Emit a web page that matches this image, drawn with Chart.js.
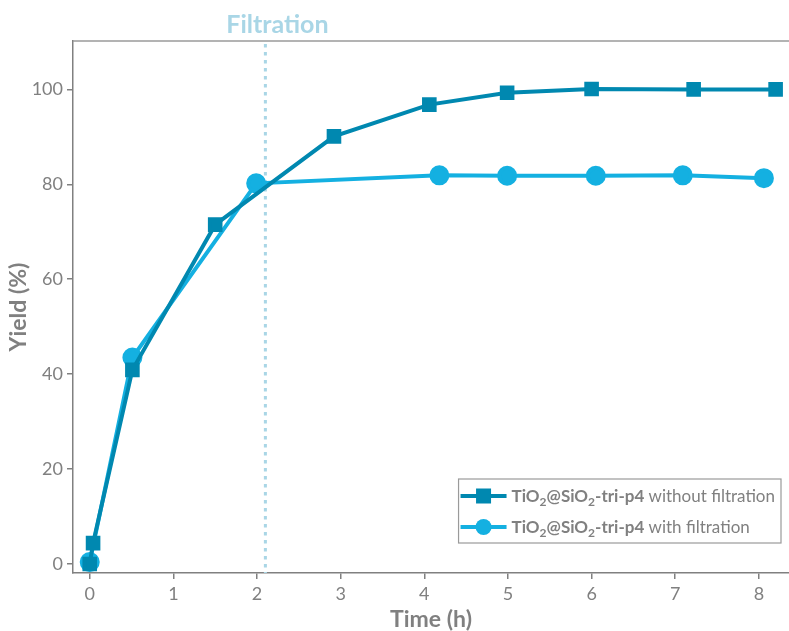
<!DOCTYPE html>
<html>
<head>
<meta charset="utf-8">
<script src="https://cdn.jsdelivr.net/npm/chart.js@4/dist/chart.umd.min.js"></script>
<style>
  html, body { margin: 0; padding: 0; background: #fff; }
  #wrap { width: 789px; height: 631px; }
</style>
</head>
<body>
<div id="wrap"><canvas id="chart" width="789" height="631"></canvas></div>
<script>
// --- data
var timeNoFilt = [0, 0.04, 0.51, 1.5, 2.92, 4.06, 4.99, 6.0, 7.22, 8.2];
var yieldNoFilt = [0, 4.4, 40.9, 71.5, 90.1, 96.8, 99.3, 100.1, 100, 100];
var timeFilt = [0, 0.51, 1.99, 4.18, 4.99, 6.05, 7.09, 8.06];
var yieldFilt = [0.4, 43.5, 80.2, 81.9, 81.8, 81.8, 81.9, 81.3];
var xTicks = [0, 1, 2, 3, 4, 5, 6, 7, 8];
var yTicks = [0, 20, 40, 60, 80, 100];
var filtrationTime = 2.1;
var seriesNames = ['without filtration', 'with filtration'];
var sampleName = ['TiO', '2', '@SiO', '2', '-tri-p4'];

var GREY = '#808080';
var DARK = '#0088b0';
var LIGHT = '#14b0e1';
var FONT = 'Lato, "Noto Sans", sans-serif';

function toPoints(xs, ys) {
    return xs.map(function (x, i) { return { x: x, y: ys[i] }; });
}

// filtration marker + top border + custom legend
var extras = {
    id: 'extras',
    beforeDatasetsDraw: function (chart) {
        var ctx = chart.ctx, area = chart.chartArea;
        var fx = chart.scales.x.getPixelForValue(filtrationTime);
        ctx.save();
        ctx.strokeStyle = '#a9d6e6';
        ctx.lineWidth = 3;
        ctx.setLineDash([3.5, 4.5]);
        ctx.beginPath();
        ctx.moveTo(fx, area.top + 3);
        ctx.lineTo(fx, area.bottom);
        ctx.stroke();
        ctx.restore();
    },
    afterDraw: function (chart) {
        var ctx = chart.ctx, area = chart.chartArea;
        var fx = chart.scales.x.getPixelForValue(filtrationTime);
        ctx.save();
        // top border
        ctx.strokeStyle = '#9a9a9a';
        ctx.lineWidth = 1.5;
        ctx.beginPath();
        ctx.moveTo(area.left, area.top);
        ctx.lineTo(chart.width, area.top);
        ctx.stroke();
        // label
        ctx.fillStyle = '#a9d6e6';
        ctx.font = 'bold 25px ' + FONT;
        ctx.textAlign = 'center';
        ctx.textBaseline = 'middle';
        ctx.fillText('Filtration', fx + 12, area.top - 16);

        // legend
        var big = 17, small = 12;
        var rowH = 31;
        var boxRight = area.right - 8, boxBottom = area.bottom - 30;
        var sampleW = 46, gap = 5;
        var nameW = 0;
        sampleName.forEach(function (s, i) {
            ctx.font = 'bold ' + (i % 2 ? small : big) + 'px ' + FONT;
            nameW += ctx.measureText(s).width;
        });
        ctx.font = big + 'px ' + FONT;
        var textW = nameW + ctx.measureText(' ' + seriesNames[0]).width;
        var boxW = 2 + sampleW + gap + textW + 6;
        var boxH = rowH * 2 + 2;
        var bx = boxRight - boxW, by = boxBottom - boxH;
        ctx.fillStyle = '#fff';
        ctx.fillRect(bx, by, boxW, boxH);
        ctx.strokeStyle = '#9a9a9a';
        ctx.lineWidth = 1.2;
        ctx.strokeRect(bx, by, boxW, boxH);
        chart.data.datasets.forEach(function (ds, i) {
            var cy = by + 17 + i * rowH;
            var sx = bx + 2;
            ctx.strokeStyle = ds.borderColor;
            ctx.lineWidth = 4;
            ctx.beginPath();
            ctx.moveTo(sx, cy);
            ctx.lineTo(sx + sampleW, cy);
            ctx.stroke();
            ctx.fillStyle = ds.borderColor;
            if (ds.pointStyle === 'rect') {
                ctx.fillRect(sx + sampleW / 2 - 7.5, cy - 7.5, 15, 15);
            } else {
                ctx.beginPath();
                ctx.arc(sx + sampleW / 2, cy, 8, 0, Math.PI * 2);
                ctx.fill();
            }
            var tx = sx + sampleW + gap;
            ctx.fillStyle = GREY;
            ctx.textAlign = 'left';
            ctx.textBaseline = 'alphabetic';
            var base = cy + 6;
            sampleName.forEach(function (s, k) {
                ctx.font = 'bold ' + (k % 2 ? small : big) + 'px ' + FONT;
                ctx.fillText(s, tx, k % 2 ? base + 4 : base);
                tx += ctx.measureText(s).width;
            });
            ctx.font = big + 'px ' + FONT;
            ctx.fillText(' ' + seriesNames[i], tx, base);
        });
        ctx.restore();
    }
};

new Chart(document.getElementById('chart'), {
    type: 'line',
    data: {
        datasets: [
            {
                label: seriesNames[0],
                data: toPoints(timeNoFilt, yieldNoFilt),
                borderColor: DARK,
                backgroundColor: DARK,
                borderWidth: 4,
                pointStyle: 'rect',
                pointRadius: 7.5,
                tension: 0
            },
            {
                label: seriesNames[1],
                data: toPoints(timeFilt, yieldFilt),
                borderColor: LIGHT,
                backgroundColor: LIGHT,
                borderWidth: 4,
                pointStyle: 'circle',
                pointRadius: 8,
                tension: 0
            }
        ]
    },
    options: {
        responsive: false,
        animation: false,
        layout: { autoPadding: false, padding: { top: 41, right: 0, left: 0, bottom: 0 } },
        plugins: {
            legend: { display: false },
            tooltip: { enabled: false }
        },
        scales: {
            x: {
                type: 'linear',
                min: -0.2,
                max: 8.36,
                afterBuildTicks: function (s) { s.ticks = xTicks.map(function (v) { return { value: v }; }); },
                afterFit: function (s) { s.height = 58; s.paddingRight = 0; s.paddingLeft = 0; },
                border: { display: true, color: GREY, width: 1.5 },
                grid: { drawOnChartArea: false, color: GREY, tickLength: 6, lineWidth: 1.5 },
                ticks: { color: GREY, font: { family: FONT, size: 18 }, padding: 4 },
                title: {
                    display: true, text: 'Time (h)', color: GREY,
                    font: { family: FONT, size: 23, weight: 'bold' },
                    padding: { top: 0, bottom: -2 }
                }
            },
            y: {
                min: -1.9,
                max: 110.2,
                afterBuildTicks: function (s) { s.ticks = yTicks.map(function (v) { return { value: v }; }); },
                afterFit: function (s) { s.width = 73; },
                border: { display: true, color: GREY, width: 1.5 },
                grid: { drawOnChartArea: false, color: GREY, tickLength: 6, lineWidth: 1.5 },
                ticks: { color: GREY, font: { family: FONT, size: 18 }, padding: 4 },
                title: {
                    display: true, text: 'Yield (%)', color: GREY,
                    font: { family: FONT, size: 23, weight: 'bold' },
                    padding: { top: 5, bottom: 0 }
                }
            }
        }
    },
    plugins: [extras]
});
</script>
</body>
</html>
